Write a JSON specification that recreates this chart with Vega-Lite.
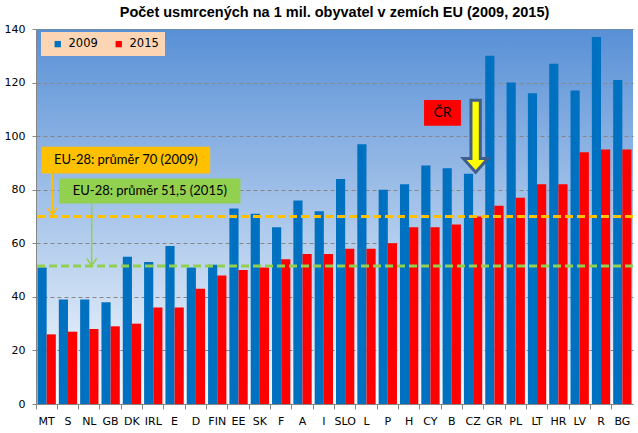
{
  "$schema": "https://vega.github.io/schema/vega-lite/v6.json",
  "width": 597,
  "height": 375,
  "autosize": "none",
  "padding": {"left": 36, "top": 29, "right": 5, "bottom": 29},
  "background": "#ffffff",
  "title": {
    "text": "Počet usmrcených  na 1 mil. obyvatel v  zemích EU (2009, 2015)",
    "font": "Liberation Sans",
    "fontSize": 14.5,
    "fontWeight": "bold",
    "color": "#000000",
    "anchor": "middle",
    "offset": 3
  },
  "config": {
    "view": {
      "stroke": null,
      "fill": {
        "gradient": "linear",
        "x1": 0, "y1": 0, "x2": 0, "y2": 1,
        "stops": [
          {"offset": 0, "color": "#5890d6"},
          {"offset": 1, "color": "#fafcff"}
        ]
      }
    },
    "axis": {
      "labelFont": "DejaVu Sans",
      "labelFontSize": 11,
      "labelColor": "#000000",
      "domainColor": "#868686",
      "tickColor": "#868686"
    }
  },
  "datasets": {
    "bars": [
      {"country": "MT", "year": "2009", "value": 51}, {"country": "MT", "year": "2015", "value": 26},
      {"country": "S", "year": "2009", "value": 39}, {"country": "S", "year": "2015", "value": 27},
      {"country": "NL", "year": "2009", "value": 39}, {"country": "NL", "year": "2015", "value": 28},
      {"country": "GB", "year": "2009", "value": 38}, {"country": "GB", "year": "2015", "value": 29},
      {"country": "DK", "year": "2009", "value": 55}, {"country": "DK", "year": "2015", "value": 30},
      {"country": "IRL", "year": "2009", "value": 53}, {"country": "IRL", "year": "2015", "value": 36},
      {"country": "E", "year": "2009", "value": 59}, {"country": "E", "year": "2015", "value": 36},
      {"country": "D", "year": "2009", "value": 51}, {"country": "D", "year": "2015", "value": 43},
      {"country": "FIN", "year": "2009", "value": 52}, {"country": "FIN", "year": "2015", "value": 48},
      {"country": "EE", "year": "2009", "value": 73}, {"country": "EE", "year": "2015", "value": 50},
      {"country": "SK", "year": "2009", "value": 71}, {"country": "SK", "year": "2015", "value": 51},
      {"country": "F", "year": "2009", "value": 66}, {"country": "F", "year": "2015", "value": 54},
      {"country": "A", "year": "2009", "value": 76}, {"country": "A", "year": "2015", "value": 56},
      {"country": "I", "year": "2009", "value": 72}, {"country": "I", "year": "2015", "value": 56},
      {"country": "SLO", "year": "2009", "value": 84}, {"country": "SLO", "year": "2015", "value": 58},
      {"country": "L", "year": "2009", "value": 97}, {"country": "L", "year": "2015", "value": 58},
      {"country": "P", "year": "2009", "value": 80}, {"country": "P", "year": "2015", "value": 60},
      {"country": "H", "year": "2009", "value": 82}, {"country": "H", "year": "2015", "value": 66},
      {"country": "CY", "year": "2009", "value": 89}, {"country": "CY", "year": "2015", "value": 66},
      {"country": "B", "year": "2009", "value": 88}, {"country": "B", "year": "2015", "value": 67},
      {"country": "CZ", "year": "2009", "value": 86}, {"country": "CZ", "year": "2015", "value": 70},
      {"country": "GR", "year": "2009", "value": 130}, {"country": "GR", "year": "2015", "value": 74},
      {"country": "PL", "year": "2009", "value": 120}, {"country": "PL", "year": "2015", "value": 77},
      {"country": "LT", "year": "2009", "value": 116}, {"country": "LT", "year": "2015", "value": 82},
      {"country": "HR", "year": "2009", "value": 127}, {"country": "HR", "year": "2015", "value": 82},
      {"country": "LV", "year": "2009", "value": 117}, {"country": "LV", "year": "2015", "value": 94},
      {"country": "R", "year": "2009", "value": 137}, {"country": "R", "year": "2015", "value": 95},
      {"country": "BG", "year": "2009", "value": 121}, {"country": "BG", "year": "2015", "value": 95}
    ],
    "averages": [
      {"label": "2009", "avg": 70, "col": "#FFC000"},
      {"label": "2015", "avg": 51.5, "col": "#92D050"}
    ],
    "boxes": [
      {"label": "EU-28: průměr 70 (2009)", "x": 0.26, "x2": 8.17, "y": 86.1, "y2": 96.0, "col": "#FFC000", "size": 13},
      {"label": "EU-28: průměr 51,5 (2015)", "x": 1.09, "x2": 9.59, "y": 74.9, "y2": 84.2, "col": "#92D050", "size": 13},
      {"label": "ČR", "x": 18.2, "x2": 19.93, "y": 103.9, "y2": 113.5, "col": "#FF0000", "size": 14}
    ],
    "pointers": [
      {"x": 0.76, "from": 86.1, "to": 70.6, "col": "#FFC000"},
      {"x": 2.61, "from": 74.9, "to": 51.7, "col": "#92D050"}
    ],
    "czarrow": [
      {"x": 20.62, "y": 100}
    ]
  },
  "layer": [
    {
      "data": {"name": "bars"},
      "mark": {"type": "bar"},
      "encoding": {
        "x": {
          "field": "country",
          "type": "nominal",
          "sort": null,
          "scale": {"paddingInner": 0.14, "paddingOuter": 0.07},
          "axis": {
            "title": null,
            "labelAngle": 0,
            "tickSize": 5,
            "bandPosition": -0.08,
            "labelPadding": 6,
            "domainColor": "#868686"
          }
        },
        "xOffset": {"field": "year", "type": "nominal", "scale": {"paddingInner": 0, "paddingOuter": 0}},
        "y": {
          "field": "value",
          "type": "quantitative",
          "scale": {"domain": [0, 140], "nice": false},
          "axis": {
            "title": null,
            "values": [0, 20, 40, 60, 80, 100, 120, 140],
            "tickSize": 4,
            "labelPadding": 7,
            "grid": true,
            "gridColor": "#868686",
            "gridDash": [4, 3],
            "gridWidth": 1
          }
        },
        "color": {
          "field": "year",
          "type": "nominal",
          "scale": {"domain": ["2009", "2015"], "range": ["#0070C0", "#FF0000"]},
          "legend": {
            "title": null,
            "orient": "none",
            "legendX": 5,
            "legendY": 3,
            "direction": "horizontal",
            "fillColor": "#FCD5B4",
            "padding": 6,
            "symbolType": "square",
            "symbolSize": 40,
            "symbolStrokeWidth": 0,
            "symbolOffset": 5,
            "labelFont": "DejaVu Sans",
            "labelFontSize": 11.5,
            "labelColor": "#000000",
            "labelOffset": 5,
            "columnPadding": 10
          }
        }
      }
    },
    {
      "data": {"name": "averages"},
      "mark": {"type": "rule", "strokeWidth": 3, "strokeDash": [8, 4]},
      "encoding": {
        "y": {"field": "avg", "type": "quantitative", "scale": {"domain": [0, 140]}},
        "stroke": {"field": "col", "type": "nominal", "scale": null}
      }
    },
    {
      "layer": [
        {
          "data": {"name": "boxes"},
          "mark": {"type": "rect"},
          "encoding": {
            "x": {"field": "x", "type": "quantitative", "scale": {"domain": [0, 28], "nice": false, "zero": false}, "axis": null},
            "x2": {"field": "x2"},
            "y": {"field": "y", "type": "quantitative", "scale": {"domain": [0, 140]}},
            "y2": {"field": "y2"},
            "fill": {"field": "col", "type": "nominal", "scale": null}
          }
        },
        {
          "data": {"name": "boxes"},
          "transform": [
            {"calculate": "(datum.x + datum.x2) / 2", "as": "cx"},
            {"calculate": "(datum.y + datum.y2) / 2", "as": "cy"}
          ],
          "mark": {"type": "text", "font": "Lato", "color": "#000000", "align": "center", "baseline": "middle"},
          "encoding": {
            "x": {"field": "cx", "type": "quantitative", "scale": {"domain": [0, 28], "nice": false, "zero": false}, "axis": null},
            "y": {"field": "cy", "type": "quantitative", "scale": {"domain": [0, 140]}},
            "text": {"field": "label"},
            "size": {"field": "size", "type": "quantitative", "scale": null}
          }
        },
        {
          "data": {"name": "pointers"},
          "mark": {"type": "rule", "strokeWidth": 1.5},
          "encoding": {
            "x": {"field": "x", "type": "quantitative", "scale": {"domain": [0, 28], "nice": false, "zero": false}, "axis": null},
            "y": {"field": "from", "type": "quantitative", "scale": {"domain": [0, 140]}},
            "y2": {"field": "to"},
            "stroke": {"field": "col", "type": "nominal", "scale": null}
          }
        },
        {
          "data": {"name": "pointers"},
          "mark": {"type": "point", "filled": false, "shape": "M-1,-1.4L0,0L1,-1.4", "size": 100, "strokeWidth": 1.5, "opacity": 1},
          "encoding": {
            "x": {"field": "x", "type": "quantitative", "scale": {"domain": [0, 28], "nice": false, "zero": false}, "axis": null},
            "y": {"field": "to", "type": "quantitative", "scale": {"domain": [0, 140]}},
            "stroke": {"field": "col", "type": "nominal", "scale": null}
          }
        },
        {
          "data": {"name": "czarrow"},
          "mark": {
            "type": "point",
            "filled": true,
            "shape": "M-0.13,-1L0.13,-1L0.13,0.62L0.34,0.62L0,1L-0.34,0.62L-0.13,0.62Z",
            "size": 5184,
            "fill": "#FFFF00",
            "stroke": "#3F5F8A",
            "strokeWidth": 3,
            "opacity": 1
          },
          "encoding": {
            "x": {"field": "x", "type": "quantitative", "scale": {"domain": [0, 28], "nice": false, "zero": false}, "axis": null},
            "y": {"field": "y", "type": "quantitative", "scale": {"domain": [0, 140]}}
          }
        }
      ]
    }
  ],
  "resolve": {"scale": {"x": "independent"}, "axis": {"x": "independent"}}
}
